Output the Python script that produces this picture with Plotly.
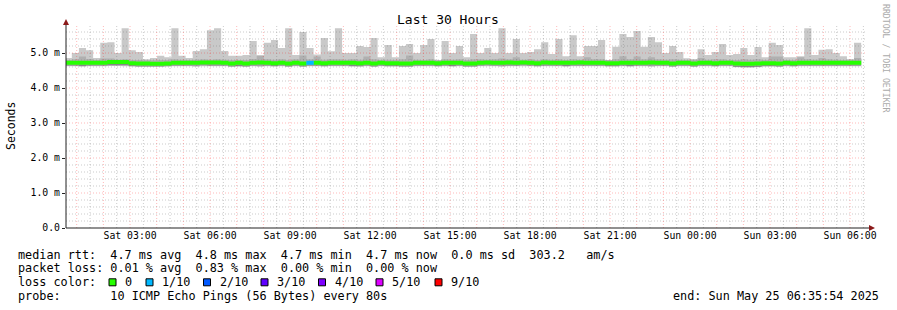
import plotly.graph_objects as go
import pandas as pd

# ---------------- data ----------------
title_text = "Last 30 Hours"
y_title = "Seconds"
watermark = "RRDTOOL / TOBI OETIKER"
y_range = [0, 5.8]
y_tick_vals = [0, 1, 2, 3, 4, 5]
y_tick_text = ["0.0", "1.0 m", "2.0 m", "3.0 m", "4.0 m", "5.0 m"]
x_start = "2025-05-24 00:35:54"
x_end = "2025-05-25 06:35:54"
x_tick_vals = ["2025-05-24 03:00", "2025-05-24 06:00", "2025-05-24 09:00", "2025-05-24 12:00",
               "2025-05-24 15:00", "2025-05-24 18:00", "2025-05-24 21:00", "2025-05-25 00:00",
               "2025-05-25 03:00", "2025-05-25 06:00"]
x_tick_text = ["Sat 03:00", "Sat 06:00", "Sat 09:00", "Sat 12:00", "Sat 15:00", "Sat 18:00",
               "Sat 21:00", "Sun 00:00", "Sun 03:00", "Sun 06:00"]
bin_first_center = "2025-05-24 00:41:00"
bin_minutes = 16

# max rtt (ms) per bin
rtt_max = [4.86, 5.00, 5.14, 5.08, 4.86, 5.29, 5.31, 5.00, 5.71, 5.08, 5.03, 4.82, 4.86, 4.92, 4.88, 5.71,
           4.92, 4.86, 5.06, 5.11, 5.65, 5.71, 5.06, 4.92, 4.92, 4.94, 5.34, 4.93, 5.29, 5.37, 5.14, 5.71,
           4.94, 5.60, 5.14, 4.96, 5.43, 5.05,
           5.71, 5.00, 5.00, 5.20, 5.17, 5.43, 4.88, 5.23, 4.88, 5.20, 5.26, 5.00, 5.23, 5.40, 4.79, 5.34,
           5.00, 5.20, 4.88, 5.54, 5.00, 5.14, 5.00, 5.71, 5.00, 5.40, 5.00, 5.03, 5.11, 5.31, 4.97, 5.40,
           4.91, 5.51, 4.91, 5.20, 5.20,
           5.37, 4.80, 5.18, 5.54, 5.46, 5.63, 5.18, 5.46, 5.31, 5.00, 5.20, 5.03, 4.85, 4.83, 5.11, 4.94,
           5.03, 5.26, 4.94, 4.97, 5.14, 4.94, 5.17, 4.88, 5.29, 5.23, 4.88, 4.88, 4.91, 5.71, 4.94, 5.09,
           5.11, 5.00, 4.91, 4.83, 5.29]
# upper edge of the denser smoke (ms)
rtt_hi = [4.80, 4.82, 4.90, 4.83, 4.80, 4.84, 4.84, 4.81, 4.82, 4.80, 4.80, 4.79, 4.79, 4.80, 4.80, 4.82,
          4.81, 4.80, 4.81, 4.82, 4.81, 4.82, 4.81, 4.80, 4.80, 4.80, 4.83, 4.93, 4.82, 4.81, 4.82, 4.80,
          4.82, 4.93, 4.82, 4.90, 4.81, 4.82,
          4.82, 4.81, 4.82, 4.81, 4.90, 4.82, 4.80, 4.81, 4.80, 4.82, 4.93, 4.81, 4.80, 4.82, 4.79, 4.82,
          4.81, 4.82, 4.80, 4.82, 4.82, 4.81, 4.82, 4.84, 4.82, 4.88, 4.81, 4.82, 4.80, 4.82, 4.81, 4.82,
          4.80, 4.82, 4.81, 4.88, 4.82,
          4.82, 4.80, 4.82, 4.91, 4.82, 4.90, 4.82, 4.88, 4.82, 4.81, 4.82, 4.81, 4.80, 4.80, 4.86, 4.81,
          4.82, 4.82, 4.80, 4.80, 4.82, 4.81, 4.82, 4.80, 4.90, 4.90, 4.80, 4.80, 4.88, 4.82, 4.81, 4.86,
          4.82, 4.81, 4.80, 4.80, 4.86]
# median rtt (ms)
rtt_median = [4.72, 4.72, 4.72, 4.72, 4.72, 4.72, 4.74, 4.74, 4.74, 4.71, 4.70, 4.70, 4.69, 4.69, 4.70, 4.72,
              4.72, 4.72, 4.72, 4.73, 4.73, 4.73, 4.72, 4.70, 4.72, 4.70, 4.72, 4.73, 4.72, 4.71, 4.72, 4.70,
              4.72, 4.70, 4.72, 4.72, 4.71, 4.72,
              4.72, 4.72, 4.72, 4.71, 4.72, 4.70, 4.72, 4.71, 4.71, 4.70, 4.70, 4.72, 4.72, 4.72, 4.71, 4.72,
              4.72, 4.72, 4.70, 4.70, 4.72, 4.73, 4.72, 4.72, 4.73, 4.72, 4.73, 4.72, 4.71, 4.73, 4.72, 4.72,
              4.72, 4.72, 4.73, 4.72, 4.72,
              4.72, 4.71, 4.71, 4.72, 4.72, 4.72, 4.72, 4.73, 4.72, 4.72, 4.70, 4.72, 4.72, 4.70, 4.72, 4.72,
              4.71, 4.72, 4.72, 4.70, 4.69, 4.69, 4.70, 4.71, 4.71, 4.70, 4.72, 4.71, 4.72, 4.72, 4.72, 4.72,
              4.72, 4.72, 4.72, 4.72, 4.72]
# lower edge of the denser smoke (ms)
rtt_lo = [4.64, 4.64, 4.63, 4.64, 4.64, 4.64, 4.65, 4.65, 4.65, 4.63, 4.62, 4.62, 4.62, 4.62, 4.63, 4.64,
          4.64, 4.64, 4.64, 4.65, 4.64, 4.64, 4.64, 4.62, 4.63, 4.62, 4.64, 4.64, 4.64, 4.63, 4.64, 4.62,
          4.64, 4.62, 4.64, 4.64, 4.63, 4.64,
          4.64, 4.64, 4.63, 4.63, 4.64, 4.62, 4.64, 4.63, 4.63, 4.62, 4.62, 4.64, 4.64, 4.64, 4.63, 4.64,
          4.63, 4.64, 4.62, 4.62, 4.64, 4.65, 4.64, 4.64, 4.64, 4.64, 4.65, 4.64, 4.63, 4.64, 4.64, 4.64,
          4.63, 4.64, 4.64, 4.64, 4.64,
          4.64, 4.63, 4.63, 4.64, 4.63, 4.64, 4.64, 4.64, 4.64, 4.64, 4.62, 4.64, 4.64, 4.62, 4.64, 4.64,
          4.63, 4.64, 4.64, 4.61, 4.60, 4.60, 4.61, 4.63, 4.63, 4.62, 4.64, 4.63, 4.64, 4.64, 4.64, 4.64,
          4.64, 4.64, 4.64, 4.64, 4.64]
# min rtt (ms)
rtt_min = [4.62, 4.62, 4.61, 4.62, 4.62, 4.62, 4.63, 4.63, 4.62, 4.61, 4.60, 4.60, 4.60, 4.60, 4.61, 4.62,
           4.62, 4.62, 4.61, 4.62, 4.62, 4.62, 4.62, 4.60, 4.61, 4.60, 4.62, 4.61, 4.62, 4.61, 4.62, 4.60,
           4.62, 4.60, 4.62, 4.62, 4.61, 4.62,
           4.62, 4.62, 4.61, 4.60, 4.62, 4.60, 4.62, 4.61, 4.61, 4.60, 4.60, 4.62, 4.62, 4.62, 4.61, 4.62,
           4.61, 4.62, 4.60, 4.60, 4.62, 4.62, 4.62, 4.61, 4.62, 4.62, 4.62, 4.62, 4.61, 4.62, 4.62, 4.62,
           4.61, 4.62, 4.62, 4.62, 4.62,
           4.62, 4.61, 4.61, 4.62, 4.61, 4.62, 4.62, 4.61, 4.62, 4.62, 4.60, 4.62, 4.62, 4.60, 4.62, 4.62,
           4.61, 4.62, 4.62, 4.59, 4.58, 4.58, 4.59, 4.61, 4.61, 4.60, 4.62, 4.61, 4.62, 4.62, 4.62, 4.62,
           4.62, 4.62, 4.62, 4.62, 4.62]
# pings lost out of 10 per bin
loss = [0] * 34 + [1] + [0] * 77

loss_levels = [0, 1, 2, 3, 4, 5, 9]
loss_labels = ["0", "1/10", "2/10", "3/10", "4/10", "5/10", "9/10"]
loss_colors = ["#26ff00", "#00b8ff", "#0059ff", "#5e00ff", "#7e00ff", "#dd00ff", "#ff0000"]

legend_line1 = "median rtt:  4.7 ms avg  4.8 ms max  4.7 ms min  4.7 ms now  0.0 ms sd  303.2   am/s"
legend_line2 = "packet loss: 0.01 % avg  0.83 % max  0.00 % min  0.00 % now"
legend_line3 = "loss color:"
legend_line4 = "probe:       10 ICMP Echo Pings (56 Bytes) every 80s"
end_text = "end: Sun May 25 06:35:54 2025"

# ---------------- layout constants ----------------
FIG_W, FIG_H = 897, 310
PX_L, PX_R, PX_T, PX_B = 66, 866, 25, 228
MONO = "DejaVu Sans Mono"
LIGHT = "rgb(201,201,201)"
MID = "rgb(176,176,176)"
DARK = "rgb(135,135,135)"
MGRID = "rgba(255,0,0,0.28)"
GRID = "rgba(110,110,110,0.36)"
BAND = 0.057


def px_x(p):
    return (p - PX_L) / (PX_R - PX_L)


def px_y(p):
    return (PX_B - p) / (PX_B - PX_T)


def color_for_loss(n):
    best = 0
    for i, lv in enumerate(loss_levels):
        if n >= lv:
            best = i
    return loss_colors[best]


times = pd.date_range(bin_first_center, periods=len(rtt_max), freq=f"{bin_minutes}min")
half = pd.Timedelta(minutes=bin_minutes / 2)
edges = list(times - half) + [times[-1] + half]

fig = go.Figure()


def step_band(lower, upper, color):
    """filled step region between lower and upper per bin"""
    lo = list(lower) + [lower[-1]]
    hi = list(upper) + [upper[-1]]
    fig.add_scatter(x=edges, y=lo, mode="lines", line=dict(width=0, shape="hv"),
                    hoverinfo="skip", showlegend=False)
    fig.add_scatter(x=edges, y=hi, mode="lines", line=dict(width=0, shape="hv"),
                    fill="tonexty", fillcolor=color, hoverinfo="skip", showlegend=False)


step_band(rtt_min, rtt_max, LIGHT)
step_band(rtt_lo, rtt_hi, MID)
step_band(rtt_lo, [m - BAND for m in rtt_median], DARK)

# grid (drawn over the smoke)
t0 = pd.Timestamp(x_start)
t1 = pd.Timestamp(x_end)
hours = pd.date_range(t0.ceil("1h"), t1, freq="1h")
halfs = [t + pd.Timedelta(minutes=30) for t in pd.date_range(t0.floor("1h"), t1, freq="1h")]
halfs = [t for t in halfs if t0 < t < t1]
major_y = [1, 2, 3, 4, 5]
minor_y = [round(v * 0.2, 1) for v in range(1, 29) if round(v * 0.2, 1) not in major_y]


def vlines(ts):
    xs, ys = [], []
    for t in ts:
        xs += [t, t, None]
        ys += [y_range[0], y_range[1], None]
    return xs, ys


def hlines(vals):
    xs, ys = [], []
    for v in vals:
        xs += [t0, t1, None]
        ys += [v, v, None]
    return xs, ys


for (xs, ys), col in [(vlines(halfs), GRID), (hlines(minor_y), GRID),
                      (vlines(hours), MGRID), (hlines(major_y), MGRID)]:
    fig.add_scatter(x=xs, y=ys, mode="lines", line=dict(color=col, width=1, dash="1px,2px"),
                    hoverinfo="skip", connectgaps=False, showlegend=False)

# median band coloured by loss: one filled-rectangle trace per loss colour
pad = pd.Timedelta(seconds=20)
bin_colors = [color_for_loss(n) for n in loss]
for col in loss_colors:
    xs, ys = [], []
    for i, c in enumerate(bin_colors):
        if c != col:
            continue
        xa, xb = edges[i] - pad, edges[i + 1] + pad
        ya, yb = rtt_median[i] - BAND, rtt_median[i] + BAND
        xs += [xa, xb, xb, xa, xa, None]
        ys += [ya, ya, yb, yb, ya, None]
    if xs:
        fig.add_scatter(x=xs, y=ys, mode="lines", line=dict(width=0), fill="toself", fillcolor=col,
                        hoverinfo="skip", showlegend=False)

shapes = []
shapes.append(dict(type="line", xref="paper", yref="paper", x0=px_x(PX_L), x1=px_x(870),
                   y0=0, y1=0, line=dict(color="#222", width=1)))
shapes.append(dict(type="line", xref="paper", yref="paper", x0=0, x1=0,
                   y0=0, y1=px_y(21), line=dict(color="#222", width=1)))
shapes.append(dict(type="path", xref="paper", yref="paper", fillcolor="#8b1a1a", line=dict(width=0),
                   path=f"M {px_x(63)} {px_y(25)} L {px_x(69)} {px_y(25)} L {px_x(66)} {px_y(19)} Z"))
shapes.append(dict(type="path", xref="paper", yref="paper", fillcolor="#8b1a1a", line=dict(width=0),
                   path=f"M {px_x(869)} {px_y(225)} L {px_x(869)} {px_y(231)} L {px_x(875)} {px_y(228)} Z"))

annotations = []
annotations.append(dict(text=title_text, xref="paper", yref="paper", x=px_x(448), y=px_y(20),
                        xanchor="center", yanchor="middle", showarrow=False,
                        font=dict(family=MONO, size=13, color="#000")))
annotations.append(dict(text=y_title, xref="paper", yref="paper", x=px_x(11), y=px_y(126),
                        xanchor="center", yanchor="middle", textangle=-90, showarrow=False,
                        font=dict(family=MONO, size=11.5, color="#000")))
annotations.append(dict(text=watermark, xref="paper", yref="paper", x=px_x(886), y=px_y(59),
                        xanchor="center", yanchor="middle", textangle=90, showarrow=False,
                        font=dict(family=MONO, size=8.2, color="#aaaaaa")))

LEG_FS = 11.8
line_y = [254.5, 268.3, 282.3, 296.2]
for txt, ly in zip([legend_line1, legend_line2, legend_line3, legend_line4], line_y):
    annotations.append(dict(text=txt.replace(" ", "\u00a0"), xref="paper", yref="paper",
                            x=px_x(16), y=px_y(ly), xanchor="left", yanchor="middle", showarrow=False,
                            font=dict(family=MONO, size=LEG_FS, color="#000")))

box_x = [109, 146, 203.5, 261, 318.5, 376, 435]
for bx, lab, col in zip(box_x, loss_labels, loss_colors):
    shapes.append(dict(type="rect", xref="paper", yref="paper", x0=px_x(bx), x1=px_x(bx + 7),
                       y0=px_y(285.8), y1=px_y(278.8), fillcolor=col, line=dict(color="#000", width=1)))
    annotations.append(dict(text=lab.replace(" ", "\u00a0"), xref="paper", yref="paper",
                            x=px_x(bx + 14.3), y=px_y(line_y[2]), xanchor="left", yanchor="middle",
                            showarrow=False, font=dict(family=MONO, size=LEG_FS, color="#000")))

annotations.append(dict(text=end_text.replace(" ", "\u00a0"), xref="paper", yref="paper",
                        x=px_x(881), y=px_y(line_y[3]), xanchor="right", yanchor="middle",
                        showarrow=False, font=dict(family=MONO, size=LEG_FS, color="#000")))

fig.update_layout(
    width=FIG_W, height=FIG_H,
    margin=dict(l=PX_L, r=FIG_W - PX_R, t=PX_T, b=FIG_H - PX_B, pad=0),
    paper_bgcolor="white", plot_bgcolor="white",
    showlegend=False,
    shapes=shapes, annotations=annotations,
    xaxis=dict(type="date", range=[x_start, x_end], tickvals=x_tick_vals, ticktext=x_tick_text,
               showgrid=False, zeroline=False, showline=False, ticks="",
               tickfont=dict(family=MONO, size=9.8, color="#000"), fixedrange=True),
    yaxis=dict(range=y_range, tickvals=y_tick_vals, ticktext=y_tick_text, showgrid=False,
               zeroline=False, showline=False, ticks="outside", ticklen=3, tickcolor="#222",
               tickfont=dict(family=MONO, size=9.8, color="#000"), fixedrange=True),
)

fig.write_html("out.html")
